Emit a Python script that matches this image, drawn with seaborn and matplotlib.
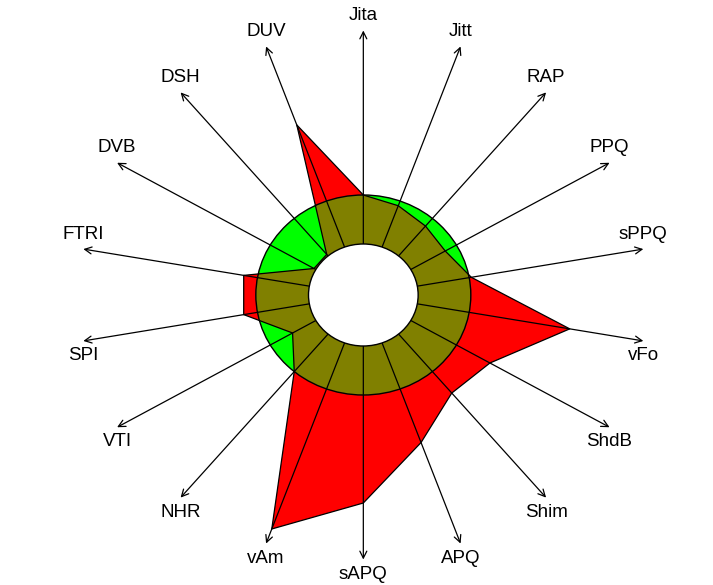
import numpy as np
import matplotlib.pyplot as plt
import seaborn as sns
from matplotlib.patches import Circle, Polygon

sns.set_theme(style="white")
plt.rcParams["font.family"] = ["Liberation Sans", "DejaVu Sans"]

# voice parameters, clockwise from the top
params = ["Jita", "Jitt", "RAP", "PPQ", "sPPQ", "vFo", "ShdB", "Shim", "APQ",
          "sAPQ", "vAm", "NHR", "VTI", "SPI", "FTRI", "DVB", "DSH", "DUV"]

# patient scores, normalised so that 1.0 = threshold of the normal range
scores = [1.00, 0.95, 0.90, 0.88, 1.02, 1.95, 1.36, 1.28, 1.57,
          2.08, 2.49, 1.00, 0.76, 1.13, 1.13, 0.53, 0.53, 1.81]

norm_limit = 1.0     # green circle
hole = 0.51          # white centre
axis_len = 2.645     # arrow length

scores = np.array(scores)
angles = np.deg2rad(90 - 20 * np.arange(len(params)))
px = scores * np.cos(angles)
py = scores * np.sin(angles)

fig = plt.figure(figsize=(7.13, 5.85), dpi=100)
ax = fig.add_axes([0, 0, 1, 1])
ax.set_xlim(-3.380, 3.253)
ax.set_ylim(-2.90, 2.95)
ax.axis("off")

# normal range, patient polygon, and their overlap
green = Circle((0, 0), norm_limit, facecolor="#00ff00", edgecolor="none", zorder=1)
ax.add_patch(green)
ax.fill(px, py, color="#ff0000", lw=0, zorder=2)
overlap = Polygon(np.column_stack([px, py]), closed=True,
                  facecolor="#808000", edgecolor="none", zorder=3)
ax.add_patch(overlap)
overlap.set_clip_path(green)

# axes with arrows and labels
for name, a in zip(params, angles):
    tip = (axis_len * np.cos(a), axis_len * np.sin(a))
    ax.annotate("", xy=tip, xytext=(0, 0),
                arrowprops=dict(arrowstyle="->,head_length=0.5,head_width=0.25",
                                color="black", lw=0.9, shrinkA=0, shrinkB=0,
                                mutation_scale=10),
                zorder=4)
    up = np.sin(a) > 0
    ax.annotate(name, xy=tip, xytext=(0, 4.5 if up else -4.5),
                textcoords="offset points", ha="center",
                va="bottom" if up else "top", fontsize=13.5, color="black")

# outlines
ax.plot(np.append(px, px[0]), np.append(py, py[0]), color="black", lw=0.9, zorder=5)
ax.add_patch(Circle((0, 0), norm_limit, fill=False, edgecolor="black", lw=1.0, zorder=5))
ax.add_patch(Circle((0, 0), hole, facecolor="white", edgecolor="black", lw=1.0, zorder=6))

fig.savefig("out.png", dpi=100, facecolor="white")
